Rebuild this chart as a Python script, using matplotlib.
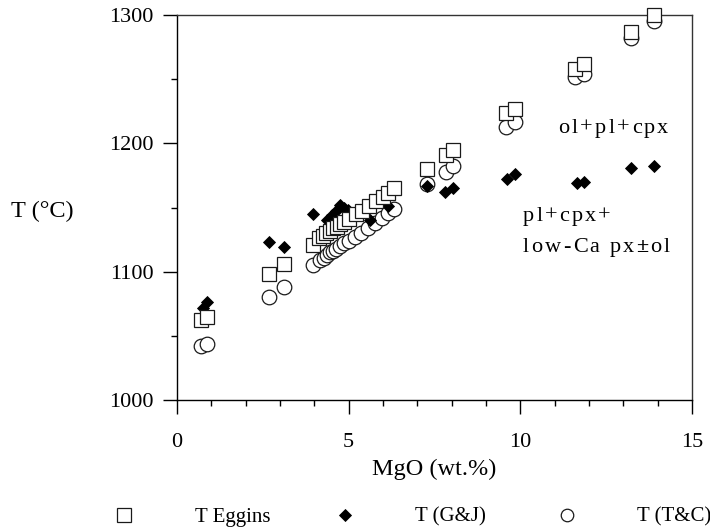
import matplotlib
matplotlib.use("Agg")
import matplotlib.pyplot as plt
from matplotlib.lines import Line2D
from matplotlib.ticker import MultipleLocator

plt.rcParams['font.family'] = ['Liberation Serif', 'DejaVu Serif']

# MgO (wt.%) and calculated temperatures (deg C)
mgo_eggins = [0.70, 0.87, 2.69, 3.12, 3.96, 4.15, 4.25, 4.35, 4.45, 4.55, 4.65,
              4.75, 4.87, 5.02, 5.20, 5.38, 5.58, 5.80, 6.00, 6.15, 6.32,
              7.27, 7.83, 8.05, 9.58, 9.85, 11.59, 11.84, 13.21, 13.90]
t_eggins = [1062, 1065, 1098, 1106, 1121, 1126, 1128, 1130, 1132, 1134, 1135,
            1137, 1139, 1141, 1145, 1147, 1151, 1155, 1158, 1161, 1165,
            1180, 1191, 1195, 1224, 1227, 1258, 1262, 1287, 1300]

mgo_gj = [0.75, 0.88, 2.69, 3.12, 3.95, 4.36, 4.50, 4.62, 4.75, 4.85, 4.99,
          5.62, 6.16, 7.27, 7.81, 8.05, 9.60, 9.85, 11.64, 11.84, 13.21, 13.90]
t_gj = [1072, 1076, 1123, 1119, 1145, 1140, 1144, 1147, 1152, 1150, 1148,
        1140, 1151, 1167, 1162, 1165, 1172, 1176, 1169, 1170, 1181, 1182]

mgo_tc = [0.70, 0.87, 2.69, 3.12, 3.96, 4.17, 4.28, 4.37, 4.46, 4.55, 4.63,
          4.75, 4.86, 5.01, 5.18, 5.36, 5.56, 5.77, 5.97, 6.15, 6.32,
          7.27, 7.83, 8.05, 9.58, 9.85, 11.59, 11.84, 13.21, 13.90]
t_tc = [1042, 1044, 1080, 1088, 1105, 1109, 1111, 1113, 1115, 1116, 1118,
        1120, 1122, 1124, 1127, 1130, 1134, 1138, 1142, 1146, 1149,
        1168, 1178, 1182, 1213, 1217, 1252, 1254, 1282, 1295]

series_labels = ["T Eggins", "T (G&J)", "T (T&C)"]
x_ticks = [0, 5, 10, 15]
y_ticks = [1000, 1100, 1200, 1300]

FS = 16
LABEL_FS = 17.5
DPI = 100
fig = plt.figure(figsize=(7.1, 5.31), dpi=DPI)
ax = fig.add_axes([177 / 710, 131 / 531, 515 / 710, 385 / 531])

edge = '#1a1a1a'
ax.plot(mgo_tc, t_tc, linestyle='none', marker='o', ms=10.5, mfc='white',
        mec=edge, mew=0.9, zorder=3, clip_on=False)
ax.plot(mgo_gj, t_gj, linestyle='none', marker='D', ms=6.2, mfc='black',
        mec='black', mew=0.6, zorder=4, clip_on=False)
ax.plot(mgo_eggins, t_eggins, linestyle='none', marker='s', ms=10, mfc='white',
        mec=edge, mew=0.9, zorder=5, clip_on=False)

ax.set_xlim(0, 15)
ax.set_ylim(1000, 1300)
ax.set_xticks(x_ticks)
ax.set_yticks(y_ticks)
ax.xaxis.set_minor_locator(MultipleLocator(1))
ax.yaxis.set_minor_locator(MultipleLocator(50))
ax.tick_params(which='major', direction='out', length=10, width=1.0,
               labelsize=FS, color='black')
ax.tick_params(which='minor', direction='out', length=4, width=1.0, color='black')
ax.tick_params(axis='x', which='major', pad=14)
ax.tick_params(axis='y', which='major', pad=7)
for name, sp in ax.spines.items():
    sp.set_linewidth(1.0)
    sp.set_color('black' if name in ('left', 'bottom') else '#333333')

ax.set_xlabel("MgO (wt.%)", fontsize=LABEL_FS, labelpad=5)
fig.text(42 / 710, 1 - 211 / 531, "T (°C)", fontsize=LABEL_FS,
         ha='center', va='center')

# letter-spaced annotation text
renderer = fig.canvas.get_renderer()


def text_width(s, **kw):
    t = fig.text(0, 0, s, **kw)
    w = t.get_window_extent(renderer).width
    t.remove()
    return w


def spaced_text(x, y, s, spacing, bold_chars="", **kw):
    for i, ch in enumerate(s):
        if ch == ' ':
            continue
        left = text_width(s[:i + 1], **kw) - text_width(ch, **kw) if i else 0.0
        off = (left + i * spacing) * 72 / DPI
        weight = 'bold' if ch in bold_chars else 'normal'
        ax.annotate(ch, (x, y), xytext=(off, 0), textcoords='offset points',
                    fontweight=weight, va='baseline', ha='left', **kw)


spaced_text(11.1, 1208, "ol+pl+cpx", 2.3, fontsize=FS)
spaced_text(10.08, 1139.5, "pl+cpx+", 2.2, fontsize=FS)
spaced_text(10.08, 1115, "low-Ca px±ol", 2.2, bold_chars="±", fontsize=FS)

# legend row beneath the axes
handles = [dict(marker='s', ms=10, mfc='white', mec=edge, mew=0.9),
           dict(marker='D', ms=6.2, mfc='black', mec='black', mew=0.6),
           dict(marker='o', ms=9, mfc='white', mec=edge, mew=0.9)]
handle_x = [124, 345, 567]
text_x = [195, 415, 637]
for hx, tx, lab, st in zip(handle_x, text_x, series_labels, handles):
    fig.add_artist(Line2D([hx / 710], [1 - 514.5 / 531], transform=fig.transFigure,
                          linestyle='none', **st))
    fig.text(tx / 710, 1 - 521.7 / 531, lab, fontsize=15, ha='left', va='baseline')

fig.savefig("out.png", dpi=DPI)
